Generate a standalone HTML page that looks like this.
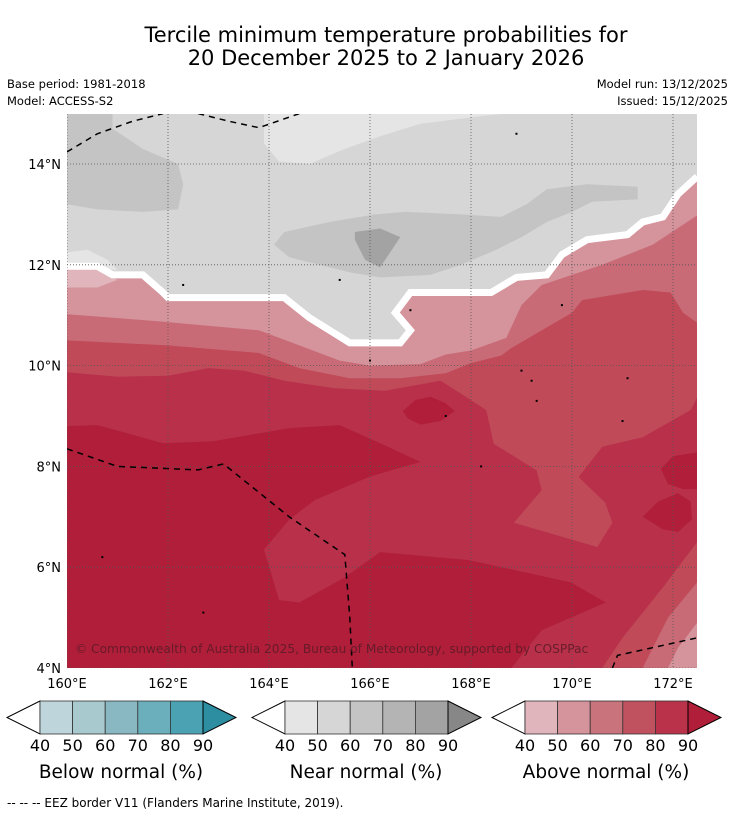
<!DOCTYPE html>
<html><head><meta charset="utf-8">
<style>
html,body{margin:0;padding:0;background:#fff;}
svg text{font-family:"DejaVu Sans","Liberation Sans",sans-serif;}
</style></head>
<body>
<svg id="chart" width="736" height="816" viewBox="0 0 736 816" xmlns="http://www.w3.org/2000/svg">
  <rect width="736" height="816" fill="#fff"/>
  <text x="386" y="42" font-size="21" text-anchor="middle" fill="#000">Tercile minimum temperature probabilities for</text>
  <text x="386" y="65" font-size="21" text-anchor="middle" fill="#000">20 December 2025 to 2 January 2026</text>
  <text x="7" y="88" font-size="11.5">Base period: 1981-2018</text>
  <text x="7" y="105" font-size="11.5">Model: ACCESS-S2</text>
  <text x="728" y="88" font-size="11.5" text-anchor="end">Model run: 13/12/2025</text>
  <text x="728" y="105" font-size="11.5" text-anchor="end">Issued: 15/12/2025</text>
  <defs><clipPath id="mapclip"><rect x="67" y="114" width="630" height="554"/></clipPath></defs>
  <g id="map" clip-path="url(#mapclip)"></g>
  <g id="axes"></g>
  <g id="bars"></g>
  <text x="7" y="807" font-size="12">--  --  -- EEZ border V11 (Flanders Marine Institute, 2019).</text>
</svg>
<script>
// ---- data ----
const lonTicks = [160,162,164,166,168,170,172];
const latTicks = [4,6,8,10,12,14];
const barTickLabels = [40,50,60,70,80,90];
const barTitles = ["Below normal (%)","Near normal (%)","Above normal (%)"];
const blueColors = ["#bfd5dc","#a8c9ce","#89b8c3","#6bafbd","#4aa2b3","#2e8ea1"];
const grayColors = ["#e5e5e5","#d6d6d6","#c4c4c4","#b4b4b4","#a3a3a3","#878787"];
const redColors  = ["#e0b5bb","#d5939b","#c9737d","#c0525f","#b93249","#b01e3a"];

// contour polygons [lon,lat]
const nearLight = [[163.9,15],[163.9,14.4],[164.2,14.05],[164.8,14.0],[165.5,14.3],[166.2,14.55],[167,14.8],[168.2,14.95],[168.7,15]];
const nearLightLeft = [[160,11.9],[160,12.25],[160.4,12.3],[160.8,12.1],[161,11.9]];
const near60Left = [[160,15],[160.9,15],[160.9,14.7],[161.5,14.3],[162.2,14.0],[162.3,13.6],[162.2,13.1],[161.5,13.05],[160.6,13.1],[160,13.2]];
const near60Center = [[164.1,12.4],[164.3,12.65],[165.2,12.85],[166.1,13.0],[166.7,13.05],[167.8,13.0],[168.6,12.95],[169.1,13.2],[169.5,13.5],[170.3,13.6],[171.3,13.55],[171.3,13.3],[170.4,13.25],[170,13.05],[169.5,12.85],[169,12.55],[168.5,12.3],[167.8,12.0],[167.2,11.8],[166.2,11.75],[165.6,11.85],[165,12.0],[164.4,12.15]];
const near80Patch = [[165.7,12.65],[166.2,12.72],[166.6,12.55],[166.3,12.1],[166.2,11.95],[165.9,12.1],[165.7,12.5]];
const whiteLine = [[160,11.97],[160.6,11.97],[160.9,11.8],[161.5,11.8],[161.9,11.45],[162.0,11.35],[164.3,11.35],[164.8,10.95],[165.2,10.7],[165.6,10.45],[166.6,10.45],[166.8,10.7],[166.5,11.05],[166.8,11.45],[168.4,11.45],[168.9,11.75],[169.5,11.8],[169.8,12.2],[170.3,12.5],[171.1,12.6],[171.4,12.85],[171.8,12.95],[172.1,13.4],[172.48,13.75]];
const above40Left = [[160,11.97],[160.6,11.9],[161,11.7],[160.6,11.55],[160,11.55]];
const above60Top = [[160,11.02],[161.8,10.88],[163.8,10.7],[164.6,10.4],[165.4,10.1],[166,10.0],[167,10.03],[167.5,10.22],[168,10.3],[168.7,10.55],[169.0,11.2],[169.4,11.6],[170.0,11.8],[170.6,12.0],[171.6,12.4],[172.48,12.98]];
const above70Top = [[160,10.5],[162,10.4],[163.8,10.25],[164.6,9.95],[165.6,9.75],[166.6,9.75],[167.5,9.85],[168,10.05],[168.6,10.2],[168.8,10.35],[170.0,11.05],[170.2,11.3],[171.4,11.5],[171.95,11.45],[172.2,11.05],[172.48,10.85]];
const above80 = [[160,9.87],[161,9.78],[162,9.8],[162.8,9.95],[163.5,9.9],[164.3,9.7],[165.3,9.55],[166.3,9.5],[167.4,9.7],[168.3,9.12],[168.45,8.45],[169.3,7.92],[169.4,7.53],[168.85,6.88],[170.5,6.4],[170.8,6.88],[170.66,7.28],[170.13,7.79],[170.6,8.39],[171.4,8.58],[172.35,9.12],[172.48,9.37],[172.48,6.5],[171.8,5.6],[171.0,4.6],[170.6,4.0],[160,4.0]];
const above90Main = [[160,8.8],[160.6,8.82],[161.9,8.46],[162.9,8.5],[164.4,8.76],[165.4,8.82],[166.2,8.46],[167,8.09],[166.0,7.8],[164.9,7.33],[164.4,6.94],[163.9,6.35],[164.2,5.35],[164.6,5.3],[165.5,5.8],[166.2,6.3],[167.96,6.14],[169.97,5.7],[170.67,5.3],[169.4,4.75],[168.8,4.0],[160,4.0]];
const above90BlobB = [[166.65,9.1],[166.9,9.32],[167.2,9.38],[167.5,9.25],[167.68,9.1],[167.4,8.9],[167.0,8.83],[166.75,8.95]];
const above90BlobC = [[172.48,8.28],[172.0,8.2],[171.76,7.95],[171.9,7.65],[172.2,7.55],[172.48,7.55]];
const above90BlobD = [[171.4,7.0],[171.7,7.3],[172.1,7.47],[172.35,7.3],[172.38,6.95],[172.1,6.7],[171.8,6.75]];
const corner60 = [[172.48,5.7],[171.9,5.0],[171.4,4.0],[172.48,4.0]];
const corner50 = [[172.48,4.9],[172.1,4.4],[171.9,4.0],[172.48,4.0]];
const eezTopA = [[160,14.24],[160.6,14.6],[161.3,14.85],[161.9,15.0]];
const eezTopB = [[162.6,15.0],[163.2,14.85],[163.8,14.72],[164.6,15.0]];
const eezMid = [[160,8.35],[161,8.0],[162.6,7.93],[163.1,8.05],[164.4,7.0],[165.5,6.25],[165.6,5.0],[165.65,4.0]];
const eezRight = [[170.8,4.0],[170.9,4.25],[172.48,4.6]];
const islands = [[168.9,14.6],[162.3,11.6],[165.4,11.7],[166.8,11.1],[169.8,11.2],[166.0,10.1],[169.0,9.9],[169.2,9.7],[171.1,9.75],[167.5,9.0],[169.3,9.3],[171.0,8.9],[168.2,8.0],[162.7,5.1],[160.7,6.2]];

// ---- axis functions ----
const X = lon => 67 + (lon - 160) * 50.5;
const Y = lat => 164 + (14 - lat) * 50.4;
const NS = "http://www.w3.org/2000/svg";
const map = document.getElementById('map');
const axes = document.getElementById('axes');
const bars = document.getElementById('bars');
function pts(arr){ return arr.map(p => X(p[0]).toFixed(1)+','+Y(p[1]).toFixed(1)).join(' '); }
function poly(parent, arr, fill, name){
  const el = document.createElementNS(NS,'polygon');
  el.setAttribute('points', pts(arr));
  el.setAttribute('fill', fill);
  
  
  parent.appendChild(el); return el;
}
function line(parent, arr, stroke, w, dash, name){
  const el = document.createElementNS(NS,'polyline');
  el.setAttribute('points', pts(arr));
  el.setAttribute('fill','none');
  el.setAttribute('stroke', stroke);
  el.setAttribute('stroke-width', w);
  if(dash) el.setAttribute('stroke-dasharray', dash);
  
  
  parent.appendChild(el); return el;
}
const mapAll = [[160,15],[172.48,15],[172.48,4],[160,4]];
poly(map, mapAll, grayColors[1], 'near-50-60-base');
poly(map, nearLight, grayColors[0], 'near-40-50-top');
poly(map, nearLightLeft, grayColors[0], 'near-40-50-left');
poly(map, near60Left, grayColors[2], 'near-60-70-left');
poly(map, near60Center, grayColors[2], 'near-60-70-center');
poly(map, near80Patch, grayColors[4], 'near-80-90-patch');
const aboveArea = whiteLine.concat([[172.48,4],[160,4]]);
poly(map, aboveArea, redColors[1], 'above-50-60');
poly(map, above40Left, redColors[0], 'above-40-50-left');
poly(map, above60Top.concat([[172.48,4],[160,4]]), '#c86b77', 'above-60-70');
poly(map, above70Top.concat([[172.48,4],[160,4]]), '#c04a58', 'above-70-80');
poly(map, above80, '#b8304a', 'above-80-90');
poly(map, above90Main, redColors[5], 'above-90-main');
poly(map, above90BlobB, redColors[5], 'above-90-blob-b');
poly(map, above90BlobC, redColors[5], 'above-90-blob-c');
poly(map, above90BlobD, redColors[5], 'above-90-blob-d');
poly(map, corner60, '#c86b77', 'above-60-70-corner');
poly(map, corner50, redColors[1], 'above-50-60-corner');
line(map, whiteLine, '#fff', 7, null, 'near-above-boundary');
// grid
lonTicks.forEach(v => {
  const g = document.createElementNS(NS,'line');
  g.setAttribute('x1',X(v)); g.setAttribute('x2',X(v)); g.setAttribute('y1',114); g.setAttribute('y2',668);
  g.setAttribute('stroke','#555'); g.setAttribute('stroke-width','0.8'); g.setAttribute('stroke-dasharray','1,2');
   
  map.appendChild(g);
});
latTicks.forEach(v => {
  const g = document.createElementNS(NS,'line');
  g.setAttribute('y1',Y(v)); g.setAttribute('y2',Y(v)); g.setAttribute('x1',67); g.setAttribute('x2',697);
  g.setAttribute('stroke','#555'); g.setAttribute('stroke-width','0.8'); g.setAttribute('stroke-dasharray','1,2');
   
  map.appendChild(g);
});
[eezTopA, eezTopB, eezMid, eezRight].forEach(a => line(map, a, '#000', 1.5, '6,5', 'eez-border'));
islands.forEach(p => {
  const c = document.createElementNS(NS,'rect');
  c.setAttribute('x', X(p[0])-1); c.setAttribute('y', Y(p[1])-1); c.setAttribute('width',2); c.setAttribute('height',2);
  c.setAttribute('fill','#000');
   
  map.appendChild(c);
});
const cp = document.createElementNS(NS,'text');
cp.setAttribute('x',75); cp.setAttribute('y',653); cp.setAttribute('font-size','12.2'); cp.setAttribute('fill','#5a1a26'); cp.setAttribute('fill-opacity','0.85');
cp.textContent = '© Commonwealth of Australia 2025, Bureau of Meteorology, supported by COSPPac';


map.appendChild(cp);
// tick labels
lonTicks.forEach(v => {
  const t = document.createElementNS(NS,'text');
  t.setAttribute('x', X(v)); t.setAttribute('y', 688); t.setAttribute('font-size','13'); t.setAttribute('text-anchor','middle');
  t.textContent = v + '°E';
  
  
  axes.appendChild(t);
});
latTicks.forEach(v => {
  const t = document.createElementNS(NS,'text');
  t.setAttribute('x', 61); t.setAttribute('y', Y(v)+5); t.setAttribute('font-size','13'); t.setAttribute('text-anchor','end');
  t.textContent = v + '°N';
  
  
  axes.appendChild(t);
});
// colorbars
const barLefts = [40, 285, 525];
const sets = [blueColors, grayColors, redColors];
const bw = 163/5, by = 701, bh = 33;
sets.forEach((cols, i) => {
  const x0 = barLefts[i];
  const g = document.createElementNS(NS,'g');
  
  
  bars.appendChild(g);
  const lt = document.createElementNS(NS,'polygon');
  lt.setAttribute('points', `${x0},${by} ${x0-33},${by+bh/2} ${x0},${by+bh}`);
  lt.setAttribute('fill','#fff'); lt.setAttribute('stroke','#000'); lt.setAttribute('stroke-width','1');
  
  
  g.appendChild(lt);
  for(let k=0;k<5;k++){
    const r = document.createElementNS(NS,'rect');
    r.setAttribute('x', x0 + k*bw); r.setAttribute('y', by); r.setAttribute('width', bw); r.setAttribute('height', bh);
    r.setAttribute('fill', cols[k]); r.setAttribute('stroke','#333'); r.setAttribute('stroke-width','0.8');
    
    
    g.appendChild(r);
  }
  const rt = document.createElementNS(NS,'polygon');
  rt.setAttribute('points', `${x0+163},${by} ${x0+196},${by+bh/2} ${x0+163},${by+bh}`);
  rt.setAttribute('fill', cols[5]); rt.setAttribute('stroke','#000'); rt.setAttribute('stroke-width','1');
  
  
  g.appendChild(rt);
  barTickLabels.forEach((v,k) => {
    const t = document.createElementNS(NS,'text');
    t.setAttribute('x', x0 + k*bw); t.setAttribute('y', 751); t.setAttribute('font-size','16'); t.setAttribute('text-anchor','middle');
    t.textContent = v;
    
    
    g.appendChild(t);
  });
  const tt = document.createElementNS(NS,'text');
  tt.setAttribute('x', x0 + 81); tt.setAttribute('y', 778); tt.setAttribute('font-size','18.5'); tt.setAttribute('text-anchor','middle');
  tt.textContent = barTitles[i];
  
  
  g.appendChild(tt);
});
</script>
</body></html>
